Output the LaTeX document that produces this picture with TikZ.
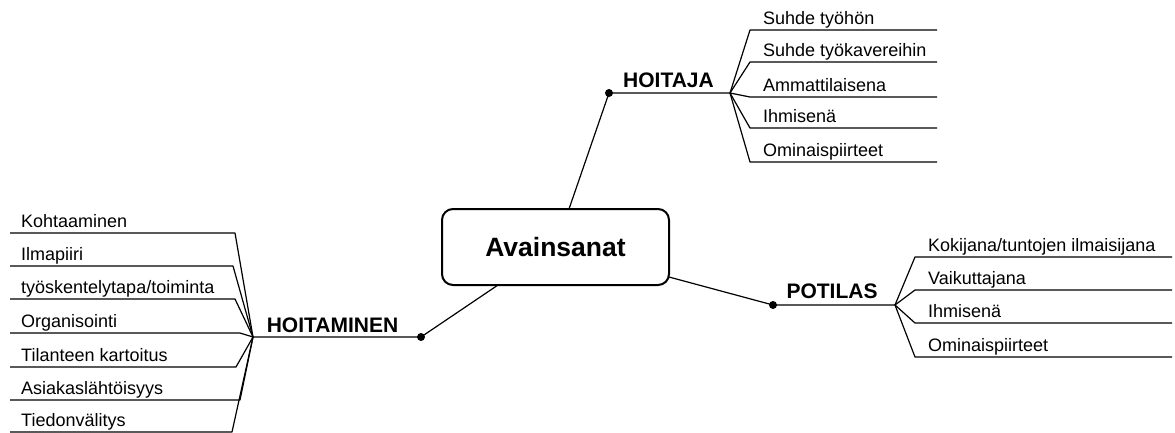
\documentclass[tikz,border=0pt]{standalone}
\usepackage{fontspec}
\setmainfont{Liberation Sans}
\begin{document}
\begin{tikzpicture}[x=1pt,y=-1pt,
  link/.style={line width=1.2pt, line join=round},
  leaf/.style={font=\fontsize{18}{20}\selectfont, anchor=base west, inner sep=0pt},
  head/.style={font=\bfseries\fontsize{21}{24}\selectfont, anchor=base, inner sep=0pt},
  hub/.style={circle, fill=black, inner sep=0pt, minimum size=8pt},
  keybox/.style={draw, rounded corners=11pt, line width=2pt, minimum width=227pt,
    minimum height=76pt, inner sep=0pt, font=\bfseries\fontsize{26.5}{30}\selectfont}]
\useasboundingbox (0,0) rectangle (1175,432);

% central box
\node[keybox] (key) at (555.5,247) {Avainsanat};

% attachment points on the box
\coordinate (keyT) at (569,209);
\coordinate (keyR) at (669,277);
\coordinate (keyB) at (498,285);

% main branches
\node[hub] (hdot) at (609,93) {};
\node[hub] (pdot) at (773,305) {};
\node[hub] (mdot) at (421,337) {};
\coordinate (hfork) at (730,93);
\coordinate (pfork) at (895,305);
\coordinate (mfork) at (253,337);

\draw[link] (keyT) -- (hdot.center) -- (hfork);
\draw[link] (keyR) -- (pdot.center) -- (pfork);
\draw[link] (keyB) -- (mdot.center) -- (mfork);

\node[head] (hlabel) at (668.5,87) {HOITAJA};
\node[head] (plabel) at (832,298) {POTILAS};
\node[head] (mlabel) at (332.5,332) {HOITAMINEN};

% HOITAJA leaves
\foreach \i/\y/\t in {1/30/{Suhde työhön}, 2/62/{Suhde työkavereihin},
    3/97/{Ammattilaisena}, 4/128/{Ihmisenä}, 5/162/{Ominaispiirteet}} {
  \coordinate (ha\i) at (750,\y);
  \coordinate (hb\i) at (937,\y);
  \node[leaf] (ht\i) at (763,\y-6) {\t};
  \draw[link] (hfork) -- (ha\i) -- (hb\i);
}

% POTILAS leaves
\foreach \i/\y/\t in {1/257/{Kokijana/tuntojen ilmaisijana}, 2/290/{Vaikuttajana},
    3/323/{Ihmisenä}, 4/357/{Ominaispiirteet}} {
  \coordinate (pa\i) at (915,\y);
  \coordinate (pb\i) at (1172,\y);
  \node[leaf] (pt\i) at (928,\y-6) {\t};
  \draw[link] (pfork) -- (pa\i) -- (pb\i);
}

% HOITAMINEN leaves
\foreach \i/\y/\e/\t in {1/233/235/{Kohtaaminen}, 2/266/233/{Ilmapiiri},
    3/299/235/{työskentelytapa/toiminta}, 4/333/240/{Organisointi},
    5/367/236/{Tilanteen kartoitus}, 6/400/240/{Asiakaslähtöisyys},
    7/432/232/{Tiedonvälitys}} {
  \coordinate (ma\i) at (10,\y);
  \coordinate (mb\i) at (\e,\y);
  \node[leaf] (mt\i) at (21,\y-6) {\t};
  \draw[link] (ma\i) -- (mb\i) -- (mfork);
}
\end{tikzpicture}
\end{document}
